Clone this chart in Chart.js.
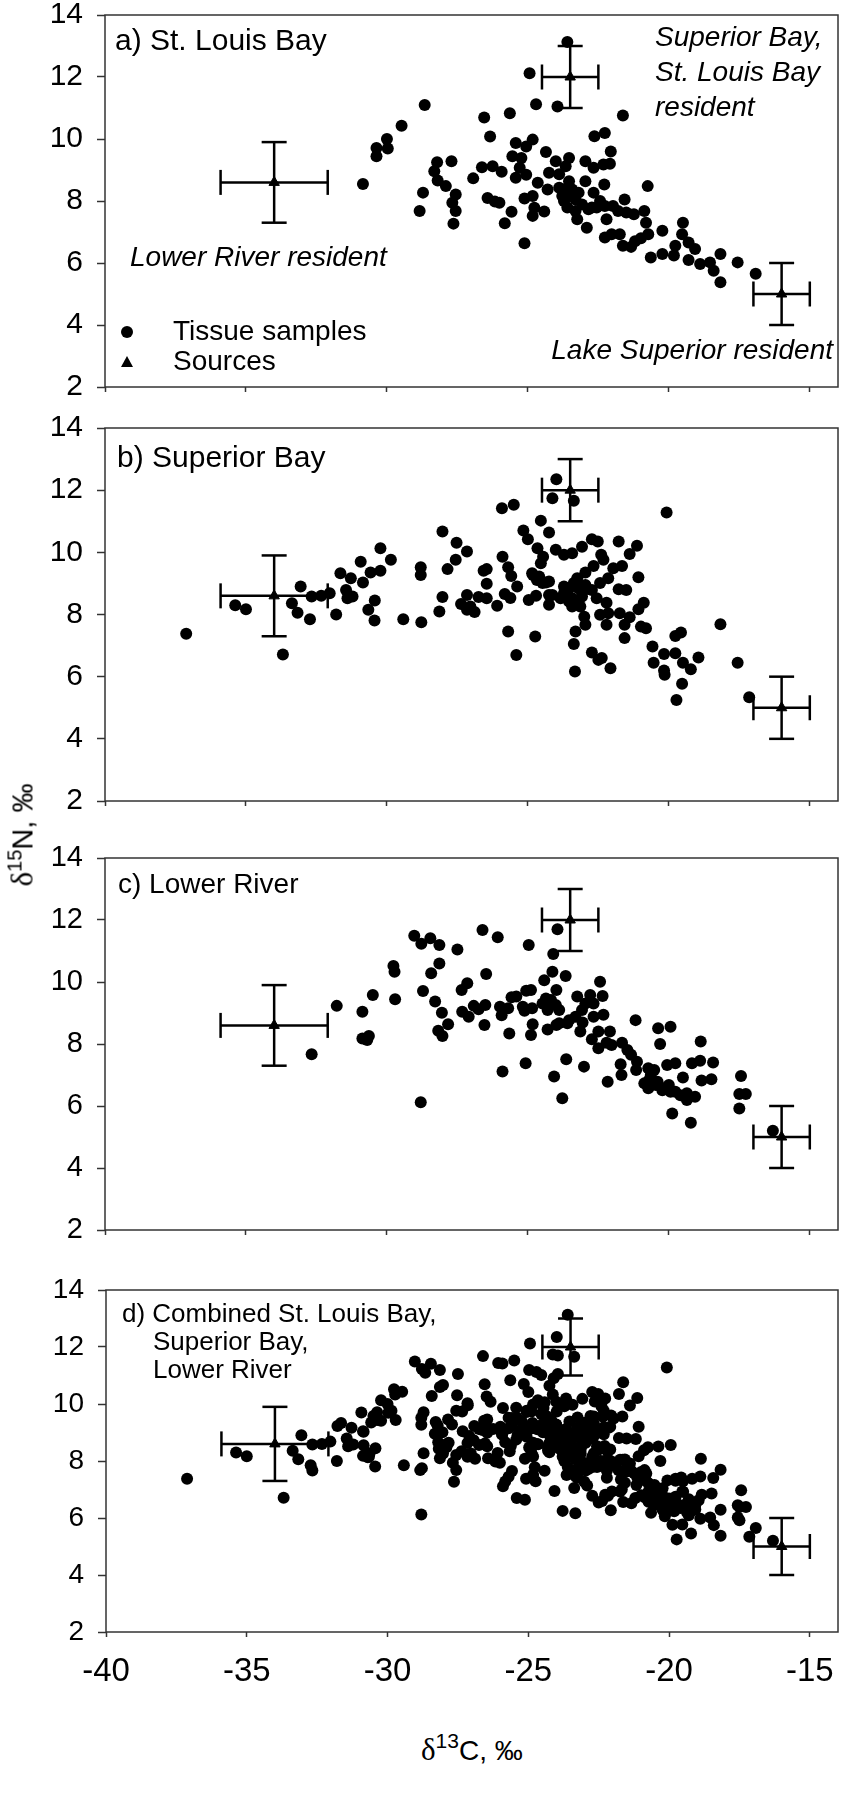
<!DOCTYPE html>
<html lang="en">
<head>
    <meta charset="UTF-8">
    <title>Stable isotope biplots</title>
    <script src="https://cdn.jsdelivr.net/npm/chart.js"></script>
    <style>
        html, body {
            margin: 0;
            padding: 0;
            background: #ffffff;
            font-family: "Liberation Sans", Arial, sans-serif;
            color: #000;
        }
        #page {
            position: relative;
            width: 853px;
            height: 1800px;
            overflow: hidden;
        }
        canvas {
            position: absolute;
            left: 0;
        }
        .txt {
            position: absolute;
            line-height: 1;
            white-space: nowrap;
            pointer-events: none;
        }
        .it { font-style: italic; font-size: 28px; }
        .delta { font-family: "Liberation Serif", "DejaVu Serif", serif; }
        .sup { line-height: 0; }
        .dot {
            position: absolute;
            width: 12px;
            height: 12px;
            border-radius: 50%;
            background: #000;
        }
        .tri {
            position: absolute;
            width: 0;
            height: 0;
            border-left: 6px solid transparent;
            border-right: 6px solid transparent;
            border-bottom: 11px solid #000;
        }
    </style>
</head>
<body>
<div id="page">
    <canvas id="panelA" width="853" height="420" style="top:0px"></canvas>
    <canvas id="panelB" width="853" height="420" style="top:410px"></canvas>
    <canvas id="panelC" width="853" height="420" style="top:840px"></canvas>
    <canvas id="panelD" width="853" height="450" style="top:1265px"></canvas>

    <!-- panel a -->
    <div class="txt" style="left:115px; top:25px; font-size:30px;">a) St. Louis Bay</div>
    <div class="txt it" style="left:655px; top:23px;">Superior Bay,</div>
    <div class="txt it" style="left:655px; top:58px;">St. Louis Bay</div>
    <div class="txt it" style="left:655px; top:93px;">resident</div>
    <div class="txt it" style="left:130px; top:243px;">Lower River resident</div>
    <div class="txt it" style="right:20px; top:336px;">Lake Superior resident</div>
    <div class="dot" style="left:121px; top:326px;"></div>
    <div class="txt" style="left:173px; top:317px; font-size:28px;">Tissue samples</div>
    <div class="tri" style="left:121px; top:356px;"></div>
    <div class="txt" style="left:173px; top:347px; font-size:28px;">Sources</div>

    <!-- panel b -->
    <div class="txt" style="left:117px; top:442px; font-size:30px;">b) Superior Bay</div>

    <!-- panel c -->
    <div class="txt" style="left:118px; top:870px; font-size:28px;">c) Lower River</div>

    <!-- panel d -->
    <div class="txt" style="left:122px; top:1300px; font-size:26px;">d) Combined St. Louis Bay,</div>
    <div class="txt" style="left:153px; top:1328px; font-size:26px;">Superior Bay,</div>
    <div class="txt" style="left:153px; top:1356px; font-size:26px;">Lower River</div>

    <!-- axis titles -->
    <div class="txt" style="left:22px; top:835px; font-size:29px; transform: translate(-50%, -50%) rotate(-90deg);"><span class="delta" style="font-size:31px;">&delta;</span><span class="sup" style="font-size:20px; vertical-align:11px;">15</span>N, &permil;</div>
    <div class="txt" style="left:421px; top:1737px; font-size:28px;"><span class="delta" style="font-size:31px; line-height:0;">&delta;</span><span class="sup" style="font-size:21px; vertical-align:12px;">13</span>C, &permil;</div>
</div>

<script>
    // sources: Lower River, Superior/St. Louis Bay, Lake Superior residents
    const srcX = [-34.0, -23.5, -16.0];
    const srcY = [8.6, 12.0, 5.0];
    const srcXErr = [1.9, 1.0, 1.0];
    const srcYErr = [1.3, 1.0, 1.0];

    const xTicks = [-40, -35, -30, -25, -20, -15];
    const yTicks = [2, 4, 6, 8, 10, 12, 14];

    // tissue samples [d13C, d15N]
    const stLouisBay = [
        [-30.85,8.55],[-30.37,9.44],[-30.37,9.71],[-30.0,10.0],[-29.97,9.69],[-29.48,10.43],[-28.84,7.68],[-28.72,8.27],[-28.66,11.1],
        [-24.94,12.12],[-24.71,11.12],[-25.64,10.83],[-26.55,10.69],[-26.34,10.08],[-24.83,9.98],[-25.43,9.87],[-25.06,9.76],[-24.36,9.58],
        [-28.22,9.25],[-27.71,9.28],[-25.55,9.44],[-25.23,9.39],[-25.29,9.07],[-26.63,9.09],[-26.25,9.12],[-25.93,8.94],[-28.32,8.96],
        [-28.2,8.66],[-27.91,8.48],[-26.94,8.73],[-25.43,8.75],[-25.06,8.85],[-24.25,8.91],[-24.65,8.59],[-24.3,8.37],[-27.56,8.21],
        [-27.68,7.94],[-27.56,7.68],[-27.64,7.27],[-26.43,8.1],[-26.17,7.98],[-26.01,7.94],[-25.58,7.65],[-25.82,7.28],[-25.12,8.08],
        [-24.83,8.16],[-24.77,7.78],[-24.83,7.52],[-24.42,7.66],[-25.12,6.64],
        [-23.6,13.13],[-23.95,11.05],[-21.63,10.76],[-22.27,10.19],[-22.64,10.09],[-22.06,9.6],
        [-24.01,9.28],[-23.54,9.39],[-23.66,9.12],[-23.89,8.86],[-23.54,8.64],[-23.72,8.37],[-23.43,8.37],[-23.72,8.0],[-23.6,7.79],
        [-23.31,7.68],[-23.25,7.41],[-22.96,9.28],[-22.67,9.07],[-22.32,9.18],[-22.09,9.2],[-22.96,8.64],[-22.67,8.27],[-22.29,8.53],
        [-22.85,7.73],[-22.56,7.79],[-22.27,7.84],[-21.98,7.84],[-21.57,8.05],[-21.8,7.68],[-21.51,7.63],[-21.24,7.57],[-20.87,7.68],
        [-20.75,8.48],[-22.21,7.41],[-22.91,7.14],[-20.81,7.3],[-20.73,6.93],[-20.99,6.8],[-21.2,6.7],[-21.34,6.52],[-21.63,6.56],
        [-21.74,6.93],[-22.03,6.93],[-22.27,6.82],[-20.23,7.04],[-20.64,6.18],[-20.23,6.29],[-19.82,6.24],[-19.77,6.56],[-19.5,7.3],
        [-19.53,6.93],[-19.3,6.66],[-19.07,6.45],[-19.3,6.1],[-18.89,5.97],[-18.54,6.02],[-18.41,5.75],[-18.17,5.38],[-18.17,6.29],
        [-17.56,6.02],[-16.92,5.65],
        [-23.89,8.43],[-23.54,8.16],[-23.31,8.05],[-23.08,7.89],[-23.2,8.27],[-23.78,8.16],[-22.73,7.79],[-22.44,8.0]
    ];

    const superiorBay = [
        [-37.12,7.38],[-35.38,8.3],[-35.0,8.17],[-33.69,6.71],[-33.37,8.36],[-33.17,8.06],[-33.06,8.9],[-32.73,7.85],[-32.67,8.58],
        [-32.33,8.6],[-32.03,8.68],[-31.8,8.0],[-31.65,9.33],[-31.45,8.79],[-31.4,8.52],[-31.22,8.58],[-31.28,9.17],[-30.93,9.7],
        [-30.85,9.03],[-30.66,8.15],[-30.58,9.35],[-30.43,8.45],[-30.44,7.81],[-30.23,10.13],[-30.23,9.41],[-29.86,9.76],[-29.42,7.85],
        [-28.8,9.52],[-28.8,9.27],[-28.78,7.75],
        [-28.03,10.67],[-27.53,10.31],[-27.16,10.03],[-27.56,9.76],[-27.85,9.46],[-28.03,8.56],[-28.14,8.1],[-27.37,8.34],[-27.16,8.63],
        [-27.04,8.26],[-27.16,8.15],[-26.89,8.08],[-26.75,8.56],[-26.46,8.52],[-26.57,9.41],[-26.46,9.46],[-26.46,8.99],[-26.09,8.28],
        [-25.92,11.42],[-25.5,11.53],[-25.9,9.86],[-25.7,9.52],[-25.59,9.24],[-25.38,8.9],[-25.82,8.66],[-25.62,8.53],[-24.97,8.47],
        [-24.71,8.6],[-25.7,7.45],[-24.74,7.29],[-25.41,6.7],[-24.54,11.02],[-25.16,10.7],[-25.0,10.42],[-24.25,10.64],[-24.66,10.13],
        [-24.46,9.86],[-24.54,9.65],[-24.85,9.33],[-24.6,9.22],[-24.48,9.01],[-24.25,9.06],[-24.25,8.63],[-24.25,8.31],
        [-23.99,12.35],[-24.13,11.74],[-23.37,11.66],[-20.08,11.28],[-24.01,10.08],[-23.72,9.92],[-23.43,9.97],[-23.08,10.18],[-22.73,10.42],
        [-22.52,10.35],[-22.4,9.92],[-22.32,9.76],[-21.78,10.35],[-21.13,10.21],[-21.39,9.95],[-21.97,9.49],[-21.66,9.56],[-22.67,9.56],
        [-22.96,9.35],[-22.15,9.17],[-22.44,9.01],[-21.08,9.2],[-21.78,8.81],[-21.51,8.79],[-23.54,8.84],[-23.2,8.84],[-22.96,8.95],
        [-22.73,8.79],[-23.43,8.52],[-23.08,8.58],[-23.43,8.26],[-22.56,8.52],[-22.21,8.38],[-22.44,7.99],[-22.15,8.04],[-21.74,8.04],
        [-21.39,7.91],[-20.89,8.38],[-21.08,8.17],[-21.57,7.67],[-22.21,7.67],[-23.0,7.93],[-22.96,7.67],[-23.31,7.45],[-23.37,7.05],
        [-20.99,7.61],[-20.81,7.56],[-21.57,7.24],[-22.73,6.78],[-22.5,6.54],[-22.38,6.6],[-22.07,6.27],[-23.33,6.17],[-20.58,6.97],
        [-20.17,6.73],[-19.77,6.75],[-19.77,7.31],[-19.57,7.42],[-20.54,6.45],[-20.17,6.2],[-20.15,6.06],[-19.5,6.45],[-19.22,6.24],
        [-18.95,6.62],[-19.53,5.77],[-19.73,5.25],[-18.17,7.69],[-17.56,6.45],[-17.15,5.34],[-23.72,8.68],[-23.25,9.17],[-23.14,8.26],
        [-24.82,9.27],[-24.68,9.11],[-24.36,9.03],[-24.13,8.63],[-23.84,8.52],[-23.54,8.42],[-23.2,8.47],[-23.02,8.79],[-23.37,9.01],
        [-23.72,8.9]
    ];

    const lowerRiver = [
        [-32.67,7.67],[-31.78,9.23],[-30.87,9.04],[-30.87,8.18],[-30.64,8.26],[-30.7,8.13],[-30.5,9.58],[-29.77,10.52],[-29.73,10.33],
        [-29.71,9.44],[-29.03,11.49],[-28.78,11.23],[-28.72,9.71],[-28.8,6.12],
        [-28.46,11.41],[-28.14,11.19],[-27.5,11.05],[-28.43,10.28],[-28.14,10.6],[-28.29,9.37],[-28.05,9.01],[-28.18,8.43],[-28.03,8.26],
        [-27.83,8.64],[-27.35,9.74],[-27.15,9.96],[-27.33,9.04],[-27.1,8.88],[-26.92,9.23],[-26.75,9.12],[-26.51,9.26],[-26.48,10.26],
        [-26.61,11.68],[-26.07,11.44],[-26.54,8.61],[-25.99,9.2],[-25.93,8.93],[-25.66,8.34],[-25.7,9.15],[-25.58,9.51],[-25.41,9.53],
        [-25.18,9.2],[-25.12,9.07],[-24.85,9.15],[-25.06,9.72],[-24.89,9.74],[-24.97,11.19],[-24.83,8.64],[-24.89,8.29],[-25.9,7.11],
        [-25.08,7.38],[-24.42,10.06],[-24.36,9.47],[-24.3,9.1],[-24.3,8.47],[-24.07,6.95],
        [-23.95,11.7],[-24.1,10.9],[-24.13,10.33],[-23.66,10.19],[-23.99,9.74],[-24.01,9.26],[-23.99,8.61],[-23.6,8.67],[-23.31,8.88],
        [-23.25,9.53],[-22.96,9.31],[-22.79,9.58],[-22.67,9.31],[-23.08,9.1],[-23.06,8.69],[-23.14,8.4],[-22.67,8.88],[-22.44,10.01],
        [-22.35,9.55],[-22.32,8.94],[-22.73,8.15],[-22.5,8.4],[-22.09,8.4],[-22.5,7.86],[-22.21,8.04],[-22.03,7.97],[-21.66,8.04],
        [-21.47,7.81],[-21.34,7.65],[-21.13,7.43],[-21.16,7.16],[-21.71,7.35],[-21.68,7.0],[-22.17,6.78],[-23.01,7.27],[-23.64,7.51],
        [-23.78,6.25],[-21.18,8.77],[-20.73,7.22],[-20.52,7.16],[-20.7,6.84],[-20.73,6.57],[-20.4,6.78],[-20.23,6.51],[-20.0,6.68],
        [-19.77,6.46],[-19.59,6.35],[-19.36,6.41],[-19.36,6.19],[-19.07,6.3],[-20.38,8.51],[-19.94,8.56],[-20.31,8.0],[-20.06,7.32],
        [-19.77,7.38],[-19.5,6.92],[-19.18,7.38],[-18.89,7.46],[-18.87,8.08],[-18.84,6.82],[-18.49,6.86],[-18.43,7.4],[-19.88,5.76],
        [-19.22,5.46],[-17.44,6.97],[-17.5,6.39],[-17.27,6.39],[-17.5,5.92],[-16.31,5.2],
        [-24.48,9.31],[-24.18,9.42],[-23.89,9.1],[-23.54,8.77],[-23.89,8.67],[-20.64,7.0],[-20.46,6.68],[-20.17,6.57],[-19.94,6.46],
        [-20.87,6.73]
    ];

    const combined = stLouisBay.concat(superiorBay, lowerRiver);

    Chart.defaults.font.family = '"Liberation Sans", Arial, sans-serif';
    Chart.defaults.color = '#000';

    // box round the plot area (top and right sides too)
    const framePlugin = {
        id: 'frame',
        afterDraw(chart) {
            const ctx = chart.ctx;
            const a = chart.chartArea;
            ctx.save();
            ctx.strokeStyle = '#333';
            ctx.lineWidth = 1.5;
            ctx.strokeRect(a.left, a.top, a.right - a.left, a.bottom - a.top);
            ctx.restore();
        }
    };

    function buildDatasets(samples) {
        let sets = [{
            data: samples.map(p => ({x: p[0], y: p[1]})),
            pointStyle: 'circle',
            pointRadius: 6,
            backgroundColor: '#000',
            borderWidth: 0
        }];
        for (let i = 0; i < srcX.length; i++) {
            // vertical bar with horizontal caps
            sets.push({
                data: [{x: srcX[i], y: srcY[i] - srcYErr[i]}, {x: srcX[i], y: srcY[i] + srcYErr[i]}],
                showLine: true,
                borderColor: '#000',
                borderWidth: 2.5,
                pointStyle: 'line',
                pointRadius: 12.5,
                pointRotation: 0,
                pointBorderWidth: 2.5,
                pointBorderColor: '#000'
            });
            // horizontal bar with vertical caps
            sets.push({
                data: [{x: srcX[i] - srcXErr[i], y: srcY[i]}, {x: srcX[i] + srcXErr[i], y: srcY[i]}],
                showLine: true,
                borderColor: '#000',
                borderWidth: 2.5,
                pointStyle: 'line',
                pointRadius: 12.5,
                pointRotation: 90,
                pointBorderWidth: 2.5,
                pointBorderColor: '#000'
            });
        }
        sets.push({
            data: srcX.map((x, i) => ({x: x, y: srcY[i]})),
            pointStyle: 'triangle',
            pointRadius: 6,
            backgroundColor: '#000',
            borderColor: '#000',
            borderWidth: 1
        });
        return sets;
    }

    function makePanel(id, samples, g) {
        new Chart(document.getElementById(id), {
            type: 'scatter',
            data: { datasets: buildDatasets(samples) },
            options: {
                responsive: false,
                animation: false,
                events: [],
                layout: { padding: { top: g.top, right: g.right, left: 0, bottom: 0 } },
                plugins: { legend: { display: false }, tooltip: { enabled: false } },
                scales: {
                    x: {
                        type: 'linear',
                        min: xTicks[0],
                        max: -14,
                        afterBuildTicks: axis => { axis.ticks = xTicks.map(v => ({value: v})); },
                        afterFit: axis => { axis.height = g.xh; axis.paddingLeft = 0; axis.paddingRight = 0; },
                        border: { display: false },
                        grid: { drawOnChartArea: false, drawTicks: true, tickLength: 5, tickColor: '#333', tickWidth: 1.5 },
                        ticks: {
                            display: g.xLabels,
                            padding: 15,
                            color: '#000',
                            font: { size: 33 },
                            maxRotation: 0
                        }
                    },
                    y: {
                        type: 'linear',
                        min: yTicks[0],
                        max: yTicks[yTicks.length - 1],
                        afterBuildTicks: axis => { axis.ticks = yTicks.map(v => ({value: v})); },
                        afterFit: axis => { axis.width = g.left; axis.paddingTop = 0; axis.paddingBottom = 0; },
                        border: { display: false },
                        grid: { drawOnChartArea: false, drawTicks: true, tickLength: 8, tickColor: '#333', tickWidth: 1.5 },
                        ticks: {
                            padding: 14,
                            color: '#000',
                            font: { size: g.yFont }
                        }
                    }
                }
            },
            plugins: [framePlugin]
        });
    }

    makePanel('panelA', stLouisBay, { top: 13, right: 4, left: 105, xh: 33, yFont: 30, xLabels: false });
    makePanel('panelB', superiorBay, { top: 18, right: 4, left: 105, xh: 29, yFont: 30, xLabels: false });
    makePanel('panelC', lowerRiver, { top: 18, right: 4, left: 105, xh: 30, yFont: 29, xLabels: false });
    makePanel('panelD', combined, { top: 25, right: 2, left: 106, xh: 83, yFont: 28, xLabels: true });
</script>
</body>
</html>
